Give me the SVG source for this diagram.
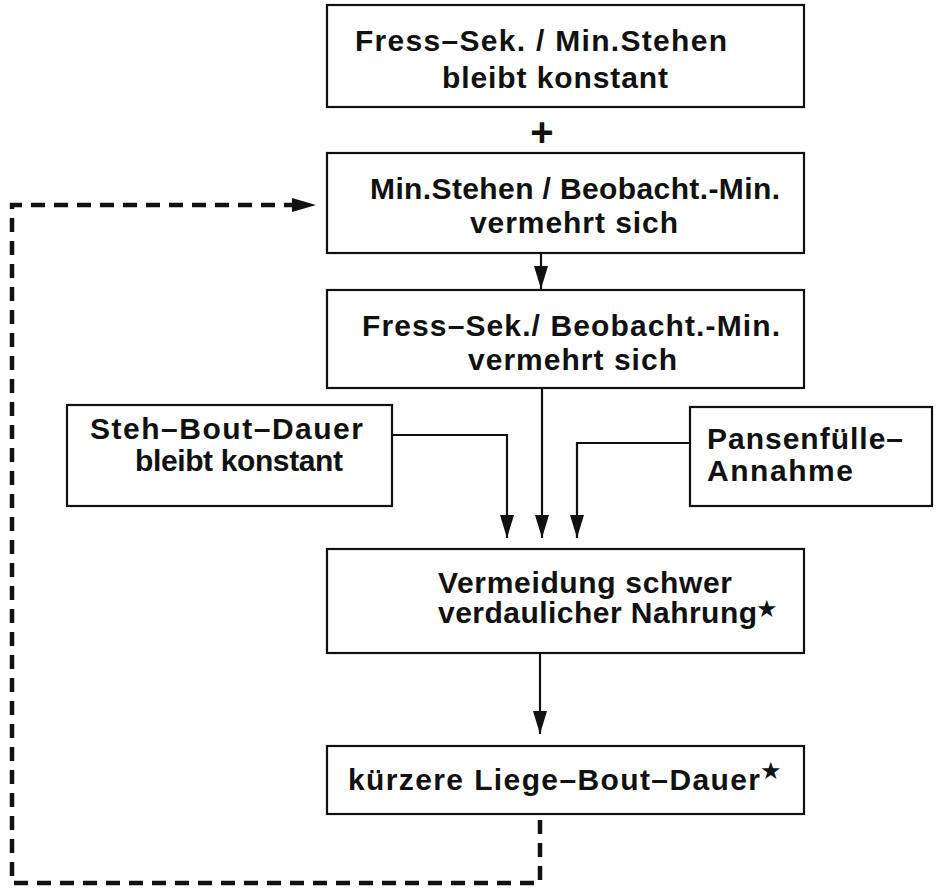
<svg xmlns="http://www.w3.org/2000/svg" width="938" height="890" viewBox="0 0 938 890">
<defs>
<style>
.box{fill:#fff;stroke:#111;stroke-width:2.2}
.t{font-family:"Liberation Sans",Arial,sans-serif;font-weight:bold;font-size:30px;fill:#111}
.st{font-family:"DejaVu Sans",sans-serif;font-size:24px;fill:#111}
.ln{fill:none;stroke:#111;stroke-width:2.2}
.dash{fill:none;stroke:#111;stroke-width:4.5;stroke-dasharray:14 9}
</style>
<marker id="ah" markerWidth="16" markerHeight="24" refX="8" refY="23" orient="0" markerUnits="userSpaceOnUse">
<path d="M1,0 L15,0 L8,23 Z" fill="#111"/>
</marker>
</defs>
<rect width="938" height="890" fill="#fff"/>

<g id="n1">
<rect class="box" x="327" y="5" width="477" height="102"/>
<text class="t" x="355" y="51" textLength="372">Fress–Sek. / Min.Stehen</text>
<text class="t" x="442" y="88" textLength="226">bleibt konstant</text>
</g>

<g id="plus">
<text class="t" x="542" y="146" text-anchor="middle" style="font-size:40px">+</text>
</g>

<g id="n2">
<rect class="box" x="327" y="153" width="477" height="100"/>
<text class="t" x="370" y="199" textLength="410">Min.Stehen / Beobacht.-Min.</text>
<text class="t" x="470" y="233" textLength="208">vermehrt sich</text>
</g>

<g id="n3">
<rect class="box" x="327" y="290" width="477" height="98"/>
<text class="t" x="362" y="336" textLength="418">Fress–Sek./ Beobacht.-Min.</text>
<text class="t" x="468" y="370" textLength="209">vermehrt sich</text>
</g>

<g id="n4">
<rect class="box" x="67" y="405" width="325" height="101"/>
<text class="t" x="90" y="439" textLength="273">Steh–Bout–Dauer</text>
<text class="t" x="135" y="471" textLength="208">bleibt konstant</text>
</g>

<g id="n5">
<rect class="box" x="690" y="407" width="242" height="99"/>
<text class="t" x="707" y="449" textLength="196">Pansenfülle–</text>
<text class="t" x="707" y="481" textLength="146">Annahme</text>
</g>

<g id="n6">
<rect class="box" x="327" y="549" width="477" height="104"/>
<text class="t" x="438" y="593" textLength="294">Vermeidung schwer</text>
<text class="t" x="438" y="623" textLength="319">verdaulicher Nahrung</text>
<text class="st" x="756" y="617">★</text>
</g>

<g id="n7">
<rect class="box" x="327" y="746" width="477" height="68"/>
<text class="t" x="348" y="790" textLength="412">kürzere Liege–Bout–Dauer</text>
<text class="st" x="760" y="779">★</text>
</g>

<g id="connectors">
<line class="ln" x1="541" y1="253" x2="541" y2="289" marker-end="url(#ah)"/>
<line class="ln" x1="542" y1="388" x2="542" y2="538" marker-end="url(#ah)"/>
<polyline class="ln" points="392,435 507,435 507,538" marker-end="url(#ah)"/>
<polyline class="ln" points="690,443 577,443 577,538" marker-end="url(#ah)"/>
<line class="ln" x1="540" y1="653" x2="540" y2="734" marker-end="url(#ah)"/>
<polyline class="dash" points="540,820 540,883 12,883 12,205 296,205"/>
<path d="M292,198 L316,205 L292,212 Z" fill="#111"/>
</g>
</svg>
